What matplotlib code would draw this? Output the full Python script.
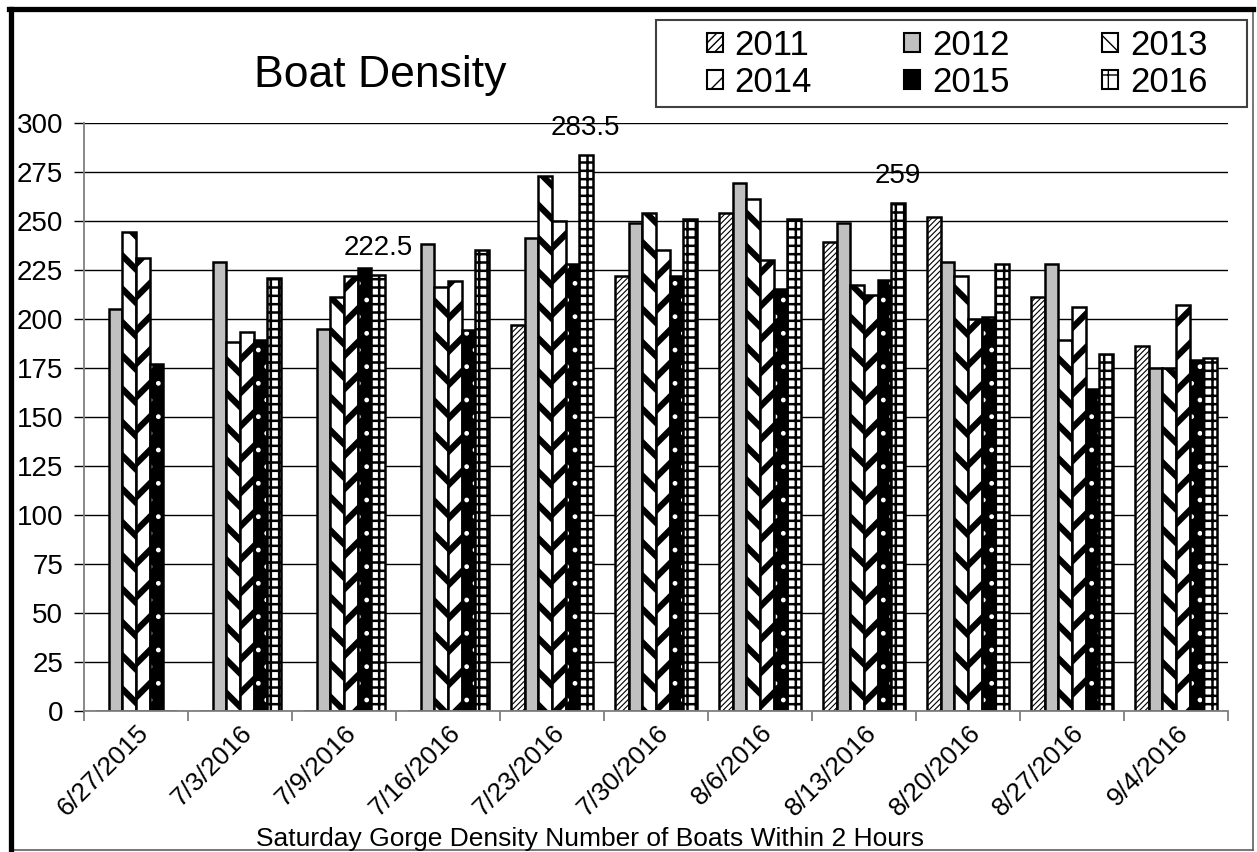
import matplotlib
matplotlib.use('Agg')
import matplotlib.pyplot as plt
import numpy as np
from matplotlib.patches import Rectangle, Patch
from matplotlib.lines import Line2D

plt.rcParams['font.family'] = ['Liberation Sans', 'DejaVu Sans']

dates = ['6/27/2015', '7/3/2016', '7/9/2016', '7/16/2016', '7/23/2016', '7/30/2016',
         '8/6/2016', '8/13/2016', '8/20/2016', '8/27/2016', '9/4/2016']
y2011 = [0, 0, 0, 0, 197, 222, 254, 239, 252, 211, 186]
y2012 = [205, 229, 195, 238, 241, 249, 269, 249, 229, 228, 175]
y2013 = [244, 188, 211, 216, 273, 254, 261, 217, 222, 189, 175]
y2014 = [231, 193, 222, 219, 250, 235, 230, 212, 200, 206, 207]
y2015 = [177, 189, 226, 194, 228, 222, 215, 220, 201, 164, 179]
y2016 = [0, 221, 222.5, 235, 283.5, 251, 251, 259, 228, 182, 180]
years = ['2011', '2012', '2013', '2014', '2015', '2016']
note_idx = [2, 4, 7]   # 2016 bars that carry a value label

fig = plt.figure(figsize=(12.57, 8.52), dpi=100)
ax = fig.add_axes([84 / 1257, 1 - 710.7 / 852, (1228 - 84) / 1257, 588 / 852])

x = np.arange(len(dates))
w = 0.13

def hbar(i, vals, **kw):
    lw_h = kw.pop('hlw', 1.0)
    with plt.rc_context({'hatch.linewidth': lw_h}):
        b = ax.bar(x + (i - 2.5) * w, vals, w, **kw)
        for p in b:
            try:
                p.set_hatch_linewidth(lw_h)
            except AttributeError:
                pass
    return b

hbar(0, y2011, color='white', edgecolor='black', hatch='//////', linewidth=1.8, hlw=0.8)
hbar(1, y2012, color='#c0c0c0', edgecolor='black', linewidth=1.8)
hbar(2, y2013, color='white', edgecolor='black', hatch='\\', linewidth=1.8, hlw=4.5)
hbar(3, y2014, color='white', edgecolor='black', hatch='/', linewidth=1.8, hlw=4.5)
hbar(4, y2015, color='black', edgecolor='white', hatch='.', linewidth=0, hlw=1.0)
hbar(4, y2015, fill=False, edgecolor='black', linewidth=1.8)
hbar(5, y2016, color='white', edgecolor='black', hatch='++', linewidth=1.8, hlw=1.8)

ax.set_ylim(0, 300)
ax.set_yticks(np.arange(0, 301, 25))
ax.set_xlim(-0.5, len(dates) - 0.5)
ax.yaxis.grid(True, color='black', linewidth=1.0)
ax.set_axisbelow(True)
for s in ['top', 'right']:
    ax.spines[s].set_visible(False)
ax.spines['left'].set_color('#808080')
ax.spines['bottom'].set_color('#808080')
ax.spines['left'].set_linewidth(1.3)
ax.spines['bottom'].set_linewidth(1.3)
ax.set_xticks(x)
ax.set_xticklabels(dates, rotation=45, ha='right', va='top', rotation_mode='anchor', fontsize=19)
ax.tick_params(axis='x', length=0, pad=7)
ax.set_xticks(np.arange(-0.5, len(dates), 1), minor=True)
ax.tick_params(axis='x', which='minor', length=7, color='#808080', width=1.3)
ax.tick_params(axis='y', labelsize=20, length=7, color='black', width=1.0, pad=8)

for i in note_idx:
    ax.annotate(f'{y2016[i]:g}', (x[i] + 2.5 * w, y2016[i]), xytext=(0, 19.5),
                textcoords='offset points', fontsize=20, ha='center', va='center',
                annotation_clip=False)

fig.text(590 / 1257, 1 - 846 / 852, 'Saturday Gorge Density Number of Boats Within 2 Hours',
         fontsize=19, ha='center', va='baseline')
fig.text(380 / 1257, 1 - 75 / 852, 'Boat Density', fontsize=32, ha='center', va='center')

def mk(fc, ec, hatch=None, hlw=1.0):
    with plt.rc_context({'hatch.linewidth': hlw}):
        p = Patch(facecolor=fc, edgecolor=ec, hatch=hatch, linewidth=1.5)
        try:
            p.set_hatch_linewidth(hlw)
        except AttributeError:
            pass
    return p

handles = [mk('white', 'black', '////', 0.8), mk('#c0c0c0', 'black'),
           mk('white', 'black', '\\', 3), mk('white', 'black', '/', 3),
           mk('black', 'black'), mk('white', 'black', '+', 1.5)]
order = [0, 3, 1, 4, 2, 5]
leg = fig.legend([handles[i] for i in order], [years[i] for i in order], ncol=3,
                 loc='center', bbox_to_anchor=(957 / 1257, 1 - 64 / 852), fontsize=25,
                 handlelength=0.46, handleheight=0.46, handletextpad=0.35,
                 columnspacing=2.65, labelspacing=0.12, borderpad=0.2,
                 frameon=False, borderaxespad=0)

# legend box
fig.patches.append(Rectangle((656 / 1257, 1 - 107 / 852), 591 / 1257, 87 / 852,
                             transform=fig.transFigure, fill=False,
                             edgecolor='#404040', linewidth=1.5))

# chart frame: heavy left/top, thin right/bottom
fx0, fx1 = 10.5 / 1257, 1253 / 1257
fy0, fy1 = 1 - 850 / 852, 1 - 9 / 852
fig.add_artist(Line2D([fx0, fx1], [fy0, fy0], color='#606060', linewidth=1.2, transform=fig.transFigure))
fig.add_artist(Line2D([fx1, fx1], [fy0, fy1], color='#606060', linewidth=1.2, transform=fig.transFigure))
fig.add_artist(Line2D([fx0, fx0], [fy0, fy1], color='black', linewidth=3.8, transform=fig.transFigure))
fig.add_artist(Line2D([fx0 - 0.0015, fx1], [fy1, fy1], color='black', linewidth=3.8, transform=fig.transFigure))

fig.savefig('out.png', dpi=100)
